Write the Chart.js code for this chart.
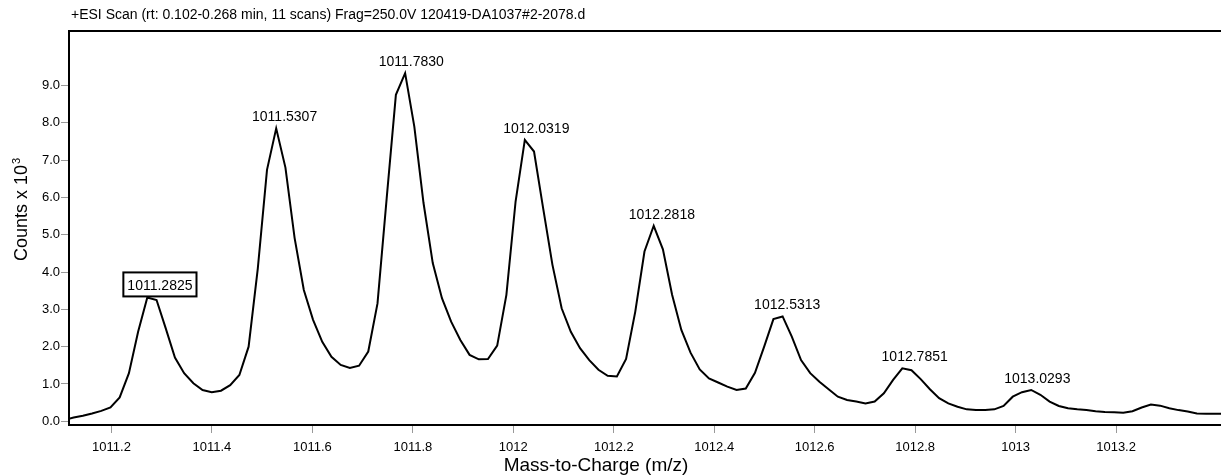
<!DOCTYPE html>
<html>
<head>
<meta charset="utf-8">
<title>Espectro ESI</title>
<script src="https://cdn.jsdelivr.net/npm/chart.js@4.4.1/dist/chart.umd.min.js"></script>
<style>
    html, body { margin: 0; padding: 0; background: #fff; overflow: hidden; }
    #espectro { display: block; }
</style>
</head>
<body>
<canvas id="espectro" width="1221" height="475"></canvas>
<script>
// Perfil do espectro: m/z de cada ponto e contagens (x 10^3)
const mz = [
    1011.1064, 1011.1247, 1011.1430, 1011.1613, 1011.1797, 1011.1980, 1011.2163, 1011.2347, 1011.2530, 1011.2713,
    1011.2897, 1011.3080, 1011.3263, 1011.3446, 1011.3630, 1011.3813, 1011.3996, 1011.4180, 1011.4363, 1011.4546,
    1011.4730, 1011.4913, 1011.5096, 1011.5279, 1011.5463, 1011.5646, 1011.5829, 1011.6013, 1011.6196, 1011.6379,
    1011.6563, 1011.6746, 1011.6929, 1011.7112, 1011.7296, 1011.7479, 1011.7662, 1011.7846, 1011.8029, 1011.8212,
    1011.8396, 1011.8579, 1011.8762, 1011.8945, 1011.9129, 1011.9312, 1011.9495, 1011.9679, 1011.9862, 1012.0045,
    1012.0229, 1012.0412, 1012.0595, 1012.0778, 1012.0962, 1012.1145, 1012.1328, 1012.1512, 1012.1695, 1012.1878,
    1012.2062, 1012.2245, 1012.2428, 1012.2611, 1012.2795, 1012.2978, 1012.3161, 1012.3345, 1012.3528, 1012.3711,
    1012.3895, 1012.4078, 1012.4261, 1012.4444, 1012.4628, 1012.4811, 1012.4994, 1012.5178, 1012.5361, 1012.5544,
    1012.5728, 1012.5911, 1012.6094, 1012.6277, 1012.6461, 1012.6644, 1012.6827, 1012.7011, 1012.7194, 1012.7377,
    1012.7561, 1012.7744, 1012.7927, 1012.8110, 1012.8294, 1012.8477, 1012.8660, 1012.8844, 1012.9027, 1012.9210,
    1012.9394, 1012.9577, 1012.9760, 1012.9943, 1013.0127, 1013.0310, 1013.0493, 1013.0677, 1013.0860, 1013.1043,
    1013.1227, 1013.1410, 1013.1593, 1013.1776, 1013.1960, 1013.2143, 1013.2326, 1013.2510, 1013.2693, 1013.2876,
    1013.3060, 1013.3243, 1013.3426, 1013.3609, 1013.3793, 1013.3976, 1013.4159
];
const counts = [
    0.04, 0.10, 0.15, 0.21, 0.28, 0.37, 0.64, 1.29, 2.40, 3.32,
    3.25, 2.49, 1.71, 1.29, 1.02, 0.84, 0.78, 0.82, 0.97, 1.24,
    2.00, 4.10, 6.74, 7.85, 6.80, 4.91, 3.52, 2.72, 2.13, 1.73,
    1.51, 1.43, 1.49, 1.87, 3.16, 5.98, 8.75, 9.33, 7.90, 5.85,
    4.24, 3.30, 2.67, 2.18, 1.78, 1.66, 1.67, 2.03, 3.39, 5.89,
    7.54, 7.23, 5.70, 4.20, 3.03, 2.40, 1.96, 1.64, 1.38, 1.22,
    1.20, 1.67, 2.94, 4.55, 5.24, 4.61, 3.39, 2.45, 1.84, 1.39,
    1.15, 1.04, 0.93, 0.84, 0.88, 1.30, 2.00, 2.74, 2.81, 2.27,
    1.64, 1.29, 1.06, 0.86, 0.66, 0.57, 0.53, 0.48, 0.53, 0.75,
    1.11, 1.42, 1.37, 1.13, 0.86, 0.62, 0.48, 0.39, 0.32, 0.30,
    0.30, 0.32, 0.41, 0.66, 0.78, 0.84, 0.71, 0.53, 0.41, 0.35,
    0.32, 0.30, 0.27, 0.25, 0.24, 0.23, 0.27, 0.37, 0.45, 0.42,
    0.35, 0.30, 0.26, 0.21, 0.20, 0.20, 0.20
];

// Picos identificados (o primeiro vai com moldura)
const peakMz = [1011.2825, 1011.5307, 1011.7830, 1012.0319, 1012.2818, 1012.5313, 1012.7851, 1013.0293];
const boxedPeaks = [1011.2825];

const xTicks = [1011.2, 1011.4, 1011.6, 1011.8, 1012, 1012.2, 1012.4, 1012.6, 1012.8, 1013, 1013.2];
const yTicks = [0, 1, 2, 3, 4, 5, 6, 7, 8, 9];

const scanTitle = '+ESI Scan (rt: 0.102-0.268 min, 11 scans) Frag=250.0V 120419-DA1037#2-2078.d';
const xTitle = 'Mass-to-Charge (m/z)';
const yTitle = 'Counts x 10';
const yTitleExp = '3';

const FONTE = '"Liberation Sans", Arial, Helvetica, sans-serif';

// Moldura superior, títulos dos eixos e rótulos dos picos
const anotacoes = {
    id: 'anotacoes',
    afterDraw(chart) {
        const { ctx, chartArea, scales: { x, y } } = chart;
        ctx.save();

        // linha de cima da moldura
        ctx.strokeStyle = '#000';
        ctx.lineWidth = 2;
        ctx.beginPath();
        ctx.moveTo(chartArea.left - 1, chartArea.top);
        ctx.lineTo(chartArea.right, chartArea.top);
        ctx.stroke();

        ctx.fillStyle = '#000';

        // título da varredura
        ctx.font = '14px ' + FONTE;
        ctx.textAlign = 'left';
        ctx.textBaseline = 'alphabetic';
        ctx.fillText(scanTitle, 71, 19);

        // título do eixo x
        ctx.font = '19px ' + FONTE;
        ctx.textAlign = 'center';
        ctx.fillText(xTitle, 596, 471);

        // título do eixo y, girado, com expoente
        ctx.save();
        ctx.translate(27, 210);
        ctx.rotate(-Math.PI / 2);
        ctx.font = '18px ' + FONTE;
        const wBase = ctx.measureText(yTitle).width;
        ctx.font = '11px ' + FONTE;
        const wExp = ctx.measureText(yTitleExp).width;
        const x0 = -(wBase + wExp) / 2;
        ctx.textAlign = 'left';
        ctx.font = '18px ' + FONTE;
        ctx.fillText(yTitle, x0, 0);
        ctx.font = '11px ' + FONTE;
        ctx.fillText(yTitleExp, x0 + wBase + 1, -7);
        ctx.restore();

        // rótulos dos picos
        ctx.font = '14px ' + FONTE;
        ctx.textAlign = 'center';
        ctx.textBaseline = 'alphabetic';
        peakMz.forEach(m => {
            let topo = 0;
            mz.forEach((v, j) => {
                if (Math.abs(v - m) < 0.03 && counts[j] > topo) topo = counts[j];
            });
            const px = x.getPixelForValue(m) + 7;
            const py = y.getPixelForValue(topo) - 7;
            const texto = m.toFixed(4);
            ctx.fillText(texto, px, py);
            if (boxedPeaks.includes(m)) {
                const w = ctx.measureText(texto).width;
                ctx.lineWidth = 2;
                ctx.strokeRect(px - w / 2 - 4, py - 18, w + 8, 24);
            }
        });

        ctx.restore();
    }
};

const ctx = document.getElementById('espectro').getContext('2d');
new Chart(ctx, {
    type: 'line',
    data: {
        datasets: [{
            data: mz.map((v, i) => ({ x: v, y: counts[i] })),
            borderColor: '#000',
            borderWidth: 2,
            pointRadius: 0,
            tension: 0,
            fill: false
        }]
    },
    options: {
        responsive: false,
        animation: false,
        events: [],
        layout: { padding: { top: 31, right: 0, bottom: 0, left: 0 } },
        plugins: {
            legend: { display: false },
            tooltip: { enabled: false },
            title: { display: false }
        },
        scales: {
            x: {
                type: 'linear',
                min: 1011.1154,
                max: 1013.4089,
                afterBuildTicks: axis => { axis.ticks = xTicks.map(v => ({ value: v })); },
                afterFit: axis => { axis.height = 50; },
                border: { display: true, color: '#000', width: 2 },
                grid: { drawOnChartArea: false, drawTicks: true, tickLength: 8, color: '#999' },
                ticks: {
                    autoSkip: false,
                    maxRotation: 0,
                    padding: 7,
                    color: '#000',
                    font: { family: FONTE, size: 13 },
                    callback: v => String(Math.round(v * 10) / 10)
                }
            },
            y: {
                type: 'linear',
                min: -0.099,
                max: 10.46,
                afterBuildTicks: axis => { axis.ticks = yTicks.map(v => ({ value: v })); },
                afterFit: axis => { axis.width = 69; },
                border: { display: true, color: '#000', width: 2 },
                grid: { drawOnChartArea: false, drawTicks: true, tickLength: 8, color: '#999' },
                ticks: {
                    padding: 1,
                    color: '#000',
                    font: { family: FONTE, size: 13 },
                    callback: v => v.toFixed(1)
                }
            }
        }
    },
    plugins: [anotacoes]
});
</script>
</body>
</html>
